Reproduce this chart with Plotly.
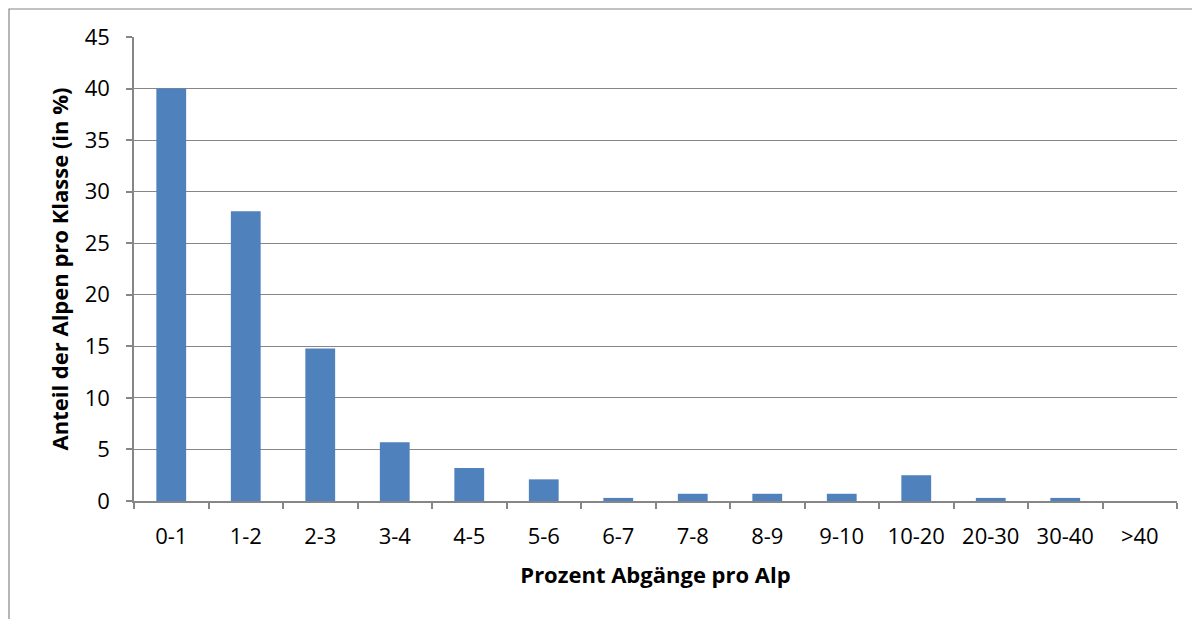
import plotly.graph_objects as go

categories = ["0-1", "1-2", "2-3", "3-4", "4-5", "5-6", "6-7", "7-8", "8-9", "9-10",
              "10-20", "20-30", "30-40", ">40"]
values = [40.0, 28.1, 14.8, 5.7, 3.2, 2.1, 0.3, 0.7, 0.7, 0.7, 2.5, 0.3, 0.3, 0.0]
y_ticks = [0, 5, 10, 15, 20, 25, 30, 35, 40, 45]

OFF = 8  # page body margin
W, H = 1200, 619
# target plot area in the screenshot
PL, PR, PT, PB = 134, 1177, 37, 501
L = PL - OFF
T = PT - OFF
R = W - (PR - OFF)
B = H - (PB - OFF)
pw, ph = W - L - R, H - T - B

def px(x):
    return (x - OFF - L) / pw

def py(y):
    return (H - B - (y - OFF)) / ph

fig = go.Figure(go.Bar(
    x=categories, y=values,
    marker=dict(color="#4F81BD", line=dict(width=0)),
))

tf = dict(family="Open Sans, Liberation Sans, sans-serif", size=22, color="black")
ttf = dict(family="Open Sans, Liberation Sans, sans-serif", size=22, color="black")

fig.update_layout(
    width=W, height=H,
    margin=dict(l=L, r=R, t=T, b=B),
    paper_bgcolor="white", plot_bgcolor="white",
    bargap=0.6,
    showlegend=False,
    font=tf,
    xaxis=dict(
        type="category",
        showline=True, linecolor="#868686", linewidth=1.5,
        ticks="outside", tickson="boundaries", ticklen=6, tickcolor="#868686", tickwidth=1.5,
        showgrid=False, tickfont=tf, ticklabelstandoff=15,
        title=dict(text="<b>Prozent Abgänge pro Alp</b>", font=ttf, standoff=18),
    ),
    yaxis=dict(
        range=[0, 45], tickvals=y_ticks,
        showline=True, linecolor="#868686", linewidth=1.5,
        ticks="outside", ticklen=6, tickcolor="#868686", tickwidth=1.5,
        showgrid=True, gridcolor="#868686", gridwidth=1.2,
        zeroline=False, tickfont=tf, ticklabelstandoff=12,
        title=dict(text="<b>Anteil der Alpen pro Klasse (in %)</b>", font=ttf, standoff=10),
    ),
    shapes=[dict(
        type="rect", xref="paper", yref="paper",
        x0=px(9), x1=px(1215), y0=py(640), y1=py(9),
        line=dict(color="#868686", width=1.2), fillcolor="rgba(0,0,0,0)", layer="below",
    )],
)

fig.write_html("out.html")
